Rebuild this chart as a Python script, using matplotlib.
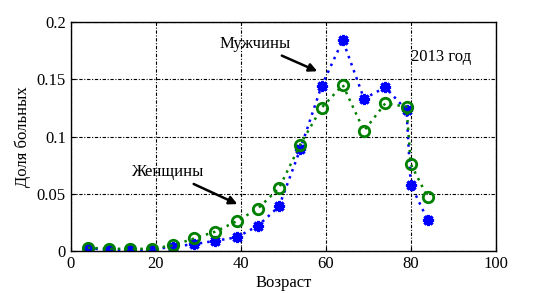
import numpy as np
import matplotlib
matplotlib.use('Agg')
import matplotlib.pyplot as plt

plt.rcParams['font.family'] = ['Liberation Serif', 'DejaVu Serif']

# Данные (доля больных по возрасту, 2013 год)
age = [4, 9, 14, 19, 24, 29, 34, 39, 44, 49, 54, 59, 64, 69, 74, 79, 80, 84]
men = [0.0026, 0.001, 0.001, 0.001, 0.004, 0.006, 0.009, 0.012, 0.022, 0.039,
       0.089, 0.144, 0.184, 0.133, 0.143, 0.123, 0.058, 0.027]
women = [0.003, 0.002, 0.002, 0.002, 0.005, 0.011, 0.017, 0.026, 0.037, 0.055,
         0.093, 0.125, 0.145, 0.105, 0.129, 0.126, 0.076, 0.047]

fig = plt.figure(figsize=(5.49, 2.93), dpi=100)
ax = fig.add_axes([0.129, 0.143, 0.774, 0.782])

ax.plot(age, men, color='blue', linestyle=(0, (1, 2)), linewidth=1.8,
        marker=(8, 2, 0), markersize=8, markeredgewidth=2.2)
ax.plot(age, women, color='green', linestyle=(0, (1, 2)), linewidth=1.8,
        marker='o', markersize=7.5, markerfacecolor='none', markeredgewidth=2)

ax.set_xlim(0, 100)
ax.set_ylim(0, 0.2)
ax.set_xticks([0, 20, 40, 60, 80, 100])
ax.set_yticks([0, 0.05, 0.1, 0.15, 0.2])
ax.set_yticklabels(['0', '0.05', '0.1', '0.15', '0.2'])
ax.grid(True, color='black', linestyle=(0, (3, 1.5, 1, 1.5)), linewidth=0.8)
ax.tick_params(direction='in', labelsize=12)
for s in ax.spines.values():
    s.set_linewidth(1)

ax.set_xlabel('Возраст', fontsize=12, labelpad=2)
ax.set_ylabel('Доля больных', fontsize=12)

ax.annotate('Мужчины', xy=(58.6, 0.156), xytext=(43.3, 0.181),
            ha='center', va='center', fontsize=12,
            arrowprops=dict(arrowstyle='-|>', color='black', lw=1.8))
ax.annotate('Женщины', xy=(39.8, 0.040), xytext=(22.8, 0.069),
            ha='center', va='center', fontsize=12,
            arrowprops=dict(arrowstyle='-|>', color='black', lw=1.8))
ax.text(80, 0.169, '2013 год', fontsize=12, ha='left', va='center')

fig.savefig('out.png', dpi=100)
